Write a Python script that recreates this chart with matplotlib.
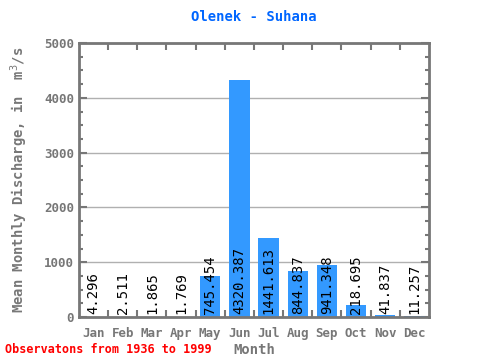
import matplotlib
matplotlib.use("Agg")
import matplotlib.pyplot as plt
from matplotlib.ticker import MultipleLocator, FixedLocator

months = ["Jan", "Feb", "Mar", "Apr", "May", "Jun", "Jul", "Aug", "Sep", "Oct", "Nov", "Dec"]
discharge = [4.296, 2.511, 1.865, 1.769, 745.454, 4320.387, 1441.613, 844.837, 941.348, 218.695, 41.837, 11.257]
labels = ["4.296", "2.511", "1.865", "1.769", "745.454", "4320.387", "1441.613", "844.837", "941.348", "218.695", "41.837", "11.257"]

plt.rcParams["font.family"] = "DejaVu Sans Mono"
gris = "#777777"

fig = plt.figure(figsize=(4.8, 3.6), dpi=100)
ax = fig.add_axes([0.1646, 0.1194, 0.729, 0.761])

x = range(len(months))
ax.bar(x, discharge, width=0.7, color="#3399ff", zorder=2)
for xi, lab in zip(x, labels):
    ax.text(xi, 60, lab, rotation=90, ha="center", va="bottom", fontsize=10, color="black", zorder=3)

ax.set_xlim(-0.5, 11.5)
ax.set_ylim(0, 5000)
ax.yaxis.set_major_locator(MultipleLocator(1000))
ax.yaxis.set_minor_locator(MultipleLocator(250))
ax.set_xticks(list(x))
ax.set_xticklabels(months)
ax.xaxis.set_minor_locator(FixedLocator([i + 0.5 for i in range(11)]))
ax.grid(axis="y", which="major", color="#b0b0b0", linewidth=1, zorder=1)

for s in ax.spines.values():
    s.set_color(gris)
    s.set_linewidth(2)

ax.tick_params(axis="x", which="major", length=0, pad=7, labelsize=9, labelcolor=gris)
ax.tick_params(axis="x", which="minor", direction="in", top=True, bottom=True, length=5, width=1.5, color=gris)
ax.tick_params(axis="y", which="major", direction="in", left=True, right=True, length=6, width=1.5, color=gris, labelsize=9, labelcolor=gris)
ax.tick_params(axis="y", which="minor", direction="in", left=True, right=True, length=3, width=1.5, color=gris)
for t in ax.get_xticklabels() + ax.get_yticklabels():
    t.set_fontweight("bold")

ax.set_title("Olenek - Suhana", color="#0066ff", fontsize=10, fontweight="bold", pad=16)
ax.set_xlabel("Month", color=gris, fontsize=10, fontweight="bold", labelpad=2)
ax.set_ylabel("Mean Monthly Discharge, in  m$^3$/s", color=gris, fontsize=10, fontweight="bold", labelpad=10)
fig.text(0.01, 0.02, "Observatons from 1936 to 1999", color="red", fontsize=8.5, fontweight="bold")

fig.savefig("out.png", dpi=100)
